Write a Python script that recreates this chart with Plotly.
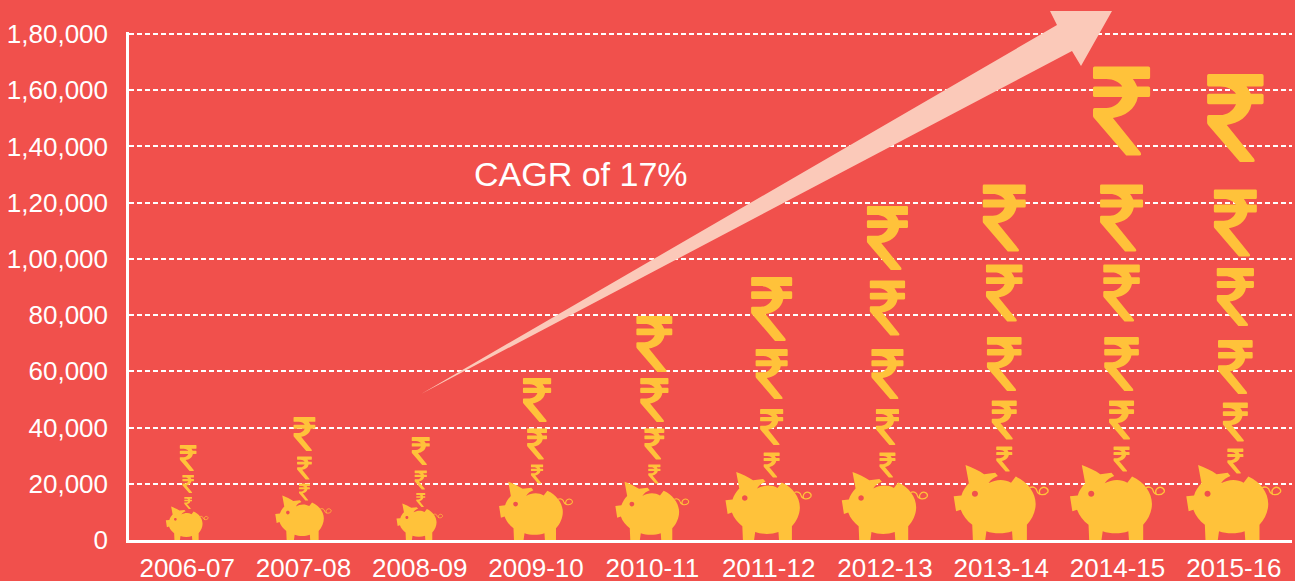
import re
import plotly.graph_objects as go

# ---- data ----
years = ["2006-07", "2007-08", "2008-09", "2009-10", "2010-11",
         "2011-12", "2012-13", "2013-14", "2014-15", "2015-16"]
y_ticks = [0, 20000, 40000, 60000, 80000, 100000, 120000, 140000, 160000, 180000]
y_labels = ["0", "20,000", "40,000", "60,000", "80,000", "1,00,000",
            "1,20,000", "1,40,000", "1,60,000", "1,80,000"]
# height reached by each stacked rupee icon, per year
coin_levels = [
    [13160, 19920, 29170],
    [17070, 25610, 37700],
    [14230, 21340, 31660],
    [23480, 34150, 49800],
    [23480, 34150, 49800, 69720],
    [26680, 40200, 59050, 82170],
    [26680, 40200, 59050, 82530, 107430],
    [28810, 42690, 62610, 87870, 114550],
    [28810, 42690, 62610, 87870, 114550, 152610],
    [28100, 41980, 61540, 86440, 112770, 150120],
]
# piggy-bank height per year, in axis units
pig_heights = [12100, 16000, 13200, 21000, 21000, 24500, 24500, 27000, 27000, 27000]

# ---- icon styling ----
coin_px = [
    [12, 18, 26],
    [17, 23, 34],
    [14, 19, 28],
    [19, 31, 44],
    [19, 31, 44, 56],
    [25, 36, 50, 64],
    [25, 36, 50, 55, 64],
    [25, 39, 54, 57, 67],
    [25, 39, 54, 57, 67, 89],
    [25, 39, 54, 58, 67, 88],
]
coin_dx = [1, 1, 1, 1, 2, 3, 2.5, 3, 4, 1.5]
BG = "#F1504C"
GOLD = "#FFC23A"
ARROW = "#FBC9B9"
FONT = "Liberation Sans"
L, R, T, B = 129, 3, 32, 41
W, H = 1295, 581
Y_MAX = 180711
PX_PER_UNIT = (H - T - B) / Y_MAX

RUPEE = ("M0,5Q0,0 5,0L167,0Q172,0 172,5L172,33Q172,38 167,38L120,38C128,48 130,55 133,60"
         "L167,60Q172,60 172,65L172,87Q172,92 167,92L135,92C128,130 95,150 60,155"
         "L143,258Q148,268 140,268L100,268L3,155Q0,152 0,148L0,130Q0,125 5,125L40,125"
         "C60,125 80,112 88,92L5,92Q0,92 0,87L0,65Q0,60 5,60L88,60C80,48 62,38 40,38"
         "L5,38Q0,38 0,33Z")
PIG = ("M50,18C70,25 90,35 105,45L138,41L146,50C135,54 125,60 118,72C138,60 165,58 185,70"
       "L199,52C235,68 258,100 258,133C258,155 248,178 232,195L232,243L190,243L188,214"
       "C165,222 135,222 112,214L108,243L72,243L70,195C55,183 42,168 36,150L22,155L15,110"
       "L38,108C42,95 50,82 60,72Z"
       "M69,103C69,91 87,91 87,103C87,115 69,115 69,103Z")
TAIL = ("M240,85C250,80 260,85 262,95C265,107 285,110 294,98C298,88 285,80 275,86"
        "C268,92 268,100 272,106")


def rescale(path, k, cx, cy):
    """Scale an icon template to pixels about (cx, cy), y pointing up."""
    tokens = re.findall(r"[MLCQZ]|-?\d+\.?\d*", path)
    res, i = [], 0
    while i < len(tokens):
        t = tokens[i]
        if t in "MLCQZ":
            res.append(t)
            i += 1
        else:
            res.append(f"{(float(t)-cx)*k:.2f},{(cy-float(tokens[i+1]))*k:.2f} ")
            i += 2
    return "".join(res)


shapes = []
for yr, levels, sizes, dx in zip(years, coin_levels, coin_px, coin_dx):
    for lv, s in zip(levels, sizes):
        k = s / 268
        shapes.append(dict(type="path", xref="x", yref="y", xsizemode="pixel", ysizemode="pixel",
                           xanchor=yr, yanchor=lv, path=rescale(RUPEE, k, 86 - dx / k, 134),
                           fillcolor=GOLD, line=dict(width=0), layer="above"))
for yr, h in zip(years, pig_heights):
    k = h * PX_PER_UNIT / 225
    shapes.append(dict(type="path", xref="x", yref="y", xsizemode="pixel", ysizemode="pixel",
                       xanchor=yr, yanchor=0, path=rescale(PIG, k, 156, 240),
                       fillcolor=GOLD, fillrule="evenodd", line=dict(width=0), layer="above"))
    shapes.append(dict(type="path", xref="x", yref="y", xsizemode="pixel", ysizemode="pixel",
                       xanchor=yr, yanchor=0, path=rescale(TAIL, k, 156, 240),
                       line=dict(color=GOLD, width=max(0.7, k * 4)), layer="above"))

# trend arrow, pixel offsets from the plot origin
ax = [421, 1057, 1050, 1112, 1081, 1072]
ay = [394, 25, 11, 11, 66, 51]
arrow_path = "M" + "L".join(f"{x - L},{(H - B) - y}" for x, y in zip(ax, ay)) + "Z"
shapes.append(dict(type="path", xref="paper", yref="paper", xsizemode="pixel", ysizemode="pixel",
                   xanchor=0, yanchor=0, path=arrow_path, fillcolor=ARROW, line=dict(width=0),
                   layer="above"))

fig = go.Figure(go.Scatter(x=years, y=[max(l) for l in coin_levels], mode="markers",
                           marker=dict(opacity=0), hoverinfo="skip", showlegend=False))
fig.update_layout(
    width=W, height=H, margin=dict(l=L, r=R, t=T, b=B, pad=0),
    paper_bgcolor=BG, plot_bgcolor=BG, showlegend=False,
    font=dict(family=FONT, color="white", size=26),
    shapes=shapes,
    annotations=[dict(text="CAGR of 17%", xref="paper", yref="paper", x=(581 - L) / (W - L - R),
                      y=(H - B - 174) / (H - T - B), xanchor="center", yanchor="middle",
                      showarrow=False, font=dict(family=FONT, size=34, color="white"))],
    xaxis=dict(type="category", categoryorder="array", categoryarray=years, range=[-0.5, 9.5],
               tickmode="array", tickvals=years, ticktext=years, showgrid=False, zeroline=False,
               showline=True, linecolor="white", linewidth=3, ticks="", ticklabelstandoff=3,
               automargin=False),
    yaxis=dict(range=[0, Y_MAX], tickmode="array", tickvals=y_ticks, ticktext=y_labels,
               showgrid=True, gridcolor="white", gridwidth=1.5, griddash="5px,3px",
               zeroline=False, showline=True, linecolor="white", linewidth=2.5, ticks="",
               ticklabelstandoff=13, automargin=False),
)
fig.write_html("out.html", config=dict(displayModeBar=False),
               post_script="document.body.style.margin='0';document.body.style.background='%s';" % BG)
